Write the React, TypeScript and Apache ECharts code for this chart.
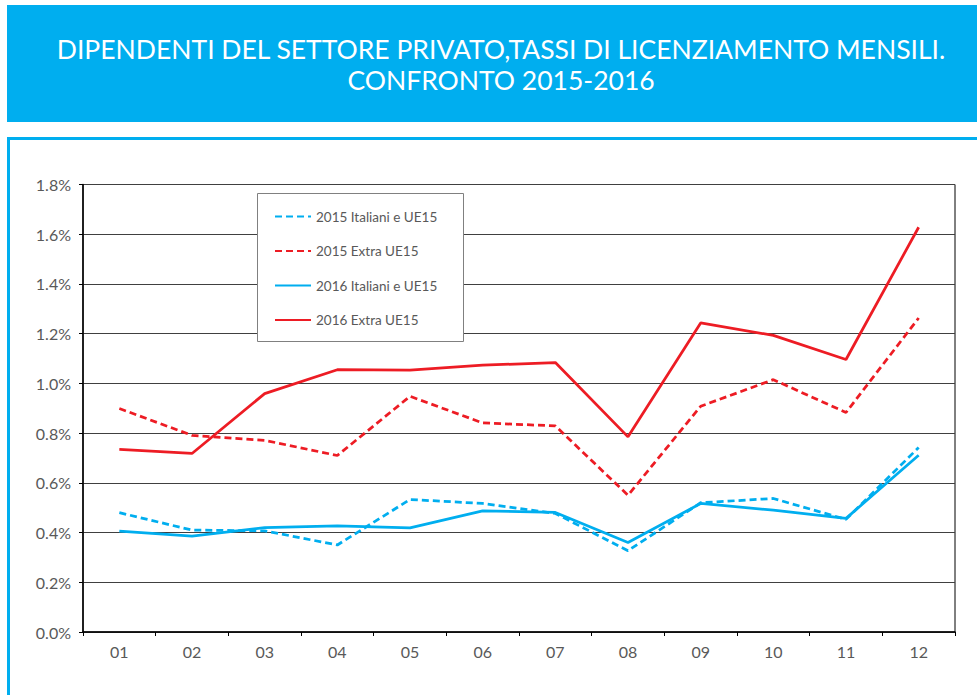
import React, { useEffect, useRef } from "react";
import * as echarts from "echarts";

const months = ["01", "02", "03", "04", "05", "06", "07", "08", "09", "10", "11", "12"];
const yTicks = [0, 0.2, 0.4, 0.6, 0.8, 1.0, 1.2, 1.4, 1.6, 1.8];

const ita2015 = [0.48, 0.41, 0.407, 0.35, 0.533, 0.517, 0.477, 0.327, 0.52, 0.537, 0.453, 0.742];
const extra2015 = [0.899, 0.791, 0.771, 0.71, 0.948, 0.841, 0.829, 0.55, 0.908, 1.015, 0.883, 1.263];
const ita2016 = [0.406, 0.386, 0.42, 0.427, 0.419, 0.487, 0.481, 0.36, 0.517, 0.49, 0.457, 0.711];
const extra2016 = [0.735, 0.718, 0.959, 1.055, 1.053, 1.073, 1.084, 0.785, 1.243, 1.193, 1.096, 1.628];

const seriesNames = ["2015 Italiani e UE15", "2015 Extra UE15", "2016 Italiani e UE15", "2016 Extra UE15"];

const BLUE = "#00AEEF";
const RED = "#ED1C24";
const FONT = "Lato, 'Open Sans', sans-serif";

export default function App() {
  const ref = useRef<HTMLDivElement>(null);
  useEffect(() => {
    if (!ref.current) return;
    const chart = echarts.init(ref.current, undefined, { renderer: "svg" });
    const mk = (name: string, data: number[], color: string, dashed: boolean) => ({
      name,
      type: "line",
      data,
      symbol: "none",
      z: 2,
      lineStyle: { color, width: 2.75, type: dashed ? [7, 4] : "solid" },
      itemStyle: { color },
    });
    chart.setOption({
      animation: false,
      backgroundColor: "#ffffff",
      title: {
        text: "DIPENDENTI DEL SETTORE PRIVATO,TASSI DI LICENZIAMENTO MENSILI.\nCONFRONTO 2015-2016",
        left: 501,
        textAlign: "center",
        top: 33,
        padding: 0,
        textStyle: {
          color: "#ffffff",
          fontFamily: FONT,
          fontWeight: "normal",
          fontSize: 26.5,
          lineHeight: 31,
        },
      },
      graphic: [
        {
          type: "rect",
          z: -10,
          shape: { x: 7, y: 5, width: 980, height: 117 },
          style: { fill: BLUE },
        },
        {
          type: "rect",
          z: -10,
          shape: { x: 8.5, y: 138.5, width: 1000, height: 600 },
          style: { fill: "none", stroke: BLUE, lineWidth: 3 },
        },
        {
          type: "rect",
          z: 3,
          shape: { x: 257.5, y: 193.5, width: 206, height: 148 },
          style: { fill: "#ffffff", stroke: "#808080", lineWidth: 1 },
        },
      ],
      legend: {
        data: seriesNames,
        orient: "vertical",
        left: 274,
        top: 209.5,
        padding: 0,
        itemWidth: 36,
        itemHeight: 14,
        itemGap: 20.5,
        z: 4,
        itemStyle: { opacity: 0 },
        textStyle: { color: "#595959", fontFamily: FONT, fontSize: 13.5 },
      },
      grid: {
        left: 83,
        right: 22,
        top: 184.5,
        bottom: 63,
        show: true,
        borderColor: "#000000",
        borderWidth: 1,
        containLabel: false,
      },
      xAxis: {
        type: "category",
        data: months,
        boundaryGap: true,
        axisLine: { lineStyle: { color: "#000000", width: 1.5 } },
        axisTick: { show: true, length: 4, lineStyle: { color: "#000000" } },
        axisLabel: { color: "#595959", fontFamily: FONT, fontSize: 16, margin: 11 },
      },
      yAxis: {
        type: "value",
        min: 0,
        max: 1.8,
        interval: 0.2,
        axisLine: { show: true, lineStyle: { color: "#000000", width: 1.5 } },
        axisTick: { show: true, length: 4, lineStyle: { color: "#000000" } },
        splitLine: { lineStyle: { color: "#404040", width: 1 } },
        axisLabel: {
          color: "#595959",
          fontFamily: FONT,
          fontSize: 16,
          margin: 12,
          formatter: (v: number) => {
            const t = yTicks.find((x) => Math.abs(x - v) < 1e-6);
            return (t !== undefined ? t : v).toFixed(1) + "%";
          },
        },
      },
      series: [
        mk(seriesNames[0], ita2015, BLUE, true),
        mk(seriesNames[1], extra2015, RED, true),
        mk(seriesNames[2], ita2016, BLUE, false),
        mk(seriesNames[3], extra2016, RED, false),
      ],
    });
    return () => chart.dispose();
  }, []);
  return (
    <div
      ref={ref}
      style={{ position: "absolute", left: 0, top: 0, width: 977, height: 695 }}
    />
  );
}
